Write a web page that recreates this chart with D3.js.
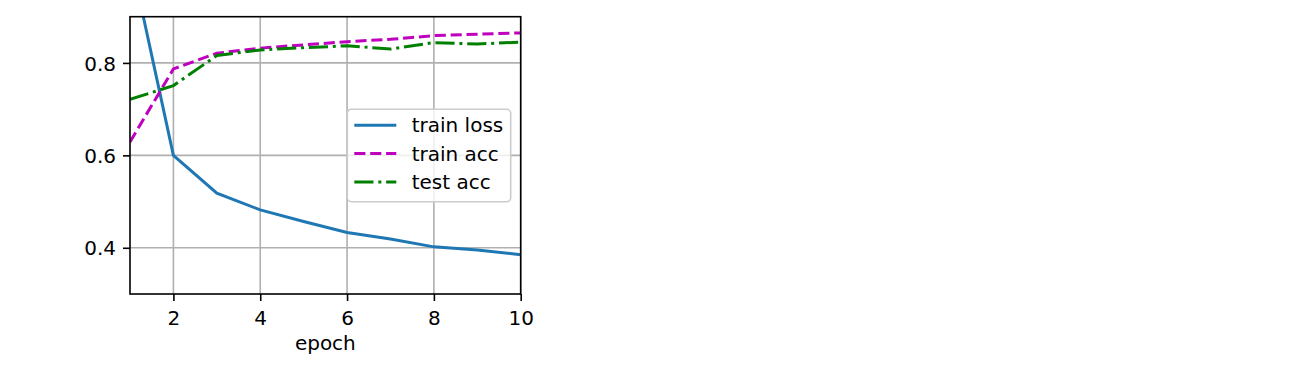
<!DOCTYPE html>
<html>
<head>
<meta charset="utf-8">
<script src="https://cdn.jsdelivr.net/npm/d3@7"></script>
<style>
  body { margin: 0; background: #fff; }
  svg text { font-family: "DejaVu Sans", sans-serif; font-size: 20px; fill: #000; }
</style>
</head>
<body>
<div id="chart"></div>
<script>
// values
var epochs = [1, 2, 3, 4, 5, 6, 7, 8, 9, 10];
var trainLoss = [1.033, 0.600, 0.518, 0.482, 0.457, 0.433, 0.419, 0.402, 0.395, 0.385];
var trainAcc = [0.629, 0.787, 0.821, 0.832, 0.839, 0.846, 0.851, 0.859, 0.862, 0.865];
var testAcc = [0.721, 0.751, 0.816, 0.828, 0.833, 0.837, 0.830, 0.844, 0.841, 0.845];
var xTicks = [2, 4, 6, 8, 10];
var yTicks = [0.4, 0.6, 0.8];
var seriesNames = ["train loss", "train acc", "test acc"];

var margin = {top: 16.7, left: 130},
    width = 390.7,
    height = 277.3;

var svg = d3.select("#chart")
  .append("svg")
    .attr("width", 1303)
    .attr("height", 377)
  .append("g")
    .attr("transform", "translate(" + margin.left + "," + margin.top + ")");

var x = d3.scaleLinear().domain([1, 10]).range([0, width]);
var y = d3.scaleLinear().domain([0.3, 0.9]).range([height, 0]);

// grid
svg.append("g").selectAll("line").data(xTicks).enter().append("line")
  .attr("x1", function(d) { return x(d); }).attr("x2", function(d) { return x(d); })
  .attr("y1", 0).attr("y2", height)
  .attr("stroke", "#b0b0b0").attr("stroke-width", 1.6);
svg.append("g").selectAll("line").data(yTicks).enter().append("line")
  .attr("y1", function(d) { return y(d); }).attr("y2", function(d) { return y(d); })
  .attr("x1", 0).attr("x2", width)
  .attr("stroke", "#b0b0b0").attr("stroke-width", 1.6);

svg.append("clipPath").attr("id", "clip")
  .append("rect").attr("width", width).attr("height", height);

var series = [
  {name: seriesNames[0], values: trainLoss, color: "#1f77b4", dash: null},
  {name: seriesNames[1], values: trainAcc, color: "#bf00bf", dash: "11.1,4.8"},
  {name: seriesNames[2], values: testAcc, color: "#008000", dash: "19.2,4.8,3,4.8"}
];

var line = d3.line()
  .x(function(d, i) { return x(epochs[i]); })
  .y(function(d) { return y(d); });

svg.append("g").attr("clip-path", "url(#clip)")
  .selectAll("path").data(series).enter().append("path")
    .attr("d", function(s) { return line(s.values); })
    .attr("fill", "none")
    .attr("stroke", function(s) { return s.color; })
    .attr("stroke-width", 3)
    .attr("stroke-dasharray", function(s) { return s.dash; });

// axes
var xAxis = svg.append("g")
  .attr("transform", "translate(0," + height + ")")
  .call(d3.axisBottom(x).tickValues(xTicks).tickSize(7).tickPadding(9.5).tickSizeOuter(0));
var yAxis = svg.append("g")
  .call(d3.axisLeft(y).tickValues(yTicks).tickFormat(d3.format(".1f")).tickSize(7).tickPadding(7).tickSizeOuter(0));
xAxis.select(".domain").remove();
yAxis.select(".domain").remove();
yAxis.selectAll("text").attr("dy", "0.36em");
svg.selectAll(".tick line").attr("stroke", "#000").attr("stroke-width", 1.6);
svg.selectAll(".tick text").style("font-size", "20px").style("font-family", "DejaVu Sans");

// frame
svg.append("rect")
  .attr("width", width).attr("height", height)
  .attr("fill", "none").attr("stroke", "#000").attr("stroke-width", 1.6);

svg.append("text")
  .attr("x", width / 2).attr("y", 333.5)
  .attr("text-anchor", "middle")
  .text("epoch");

// legend
var legend = svg.append("g").attr("transform", "translate(217.3,92.6)");
legend.append("rect")
  .attr("width", 163.4).attr("height", 92.4)
  .attr("rx", 4).attr("ry", 4)
  .attr("fill", "#fff").attr("fill-opacity", 0.8)
  .attr("stroke", "#cccccc").attr("stroke-width", 1.6);
var item = legend.selectAll(".item").data(series).enter().append("g")
  .attr("transform", function(d, i) { return "translate(0," + (16 + i * 28.3) + ")"; });
item.append("line")
  .attr("x1", 7).attr("x2", 49)
  .attr("stroke", function(s) { return s.color; })
  .attr("stroke-width", 3)
  .attr("stroke-dasharray", function(s) { return s.dash; });
item.append("text")
  .attr("x", 64.4).attr("y", 7)
  .text(function(s) { return s.name; });
</script>
</body>
</html>
